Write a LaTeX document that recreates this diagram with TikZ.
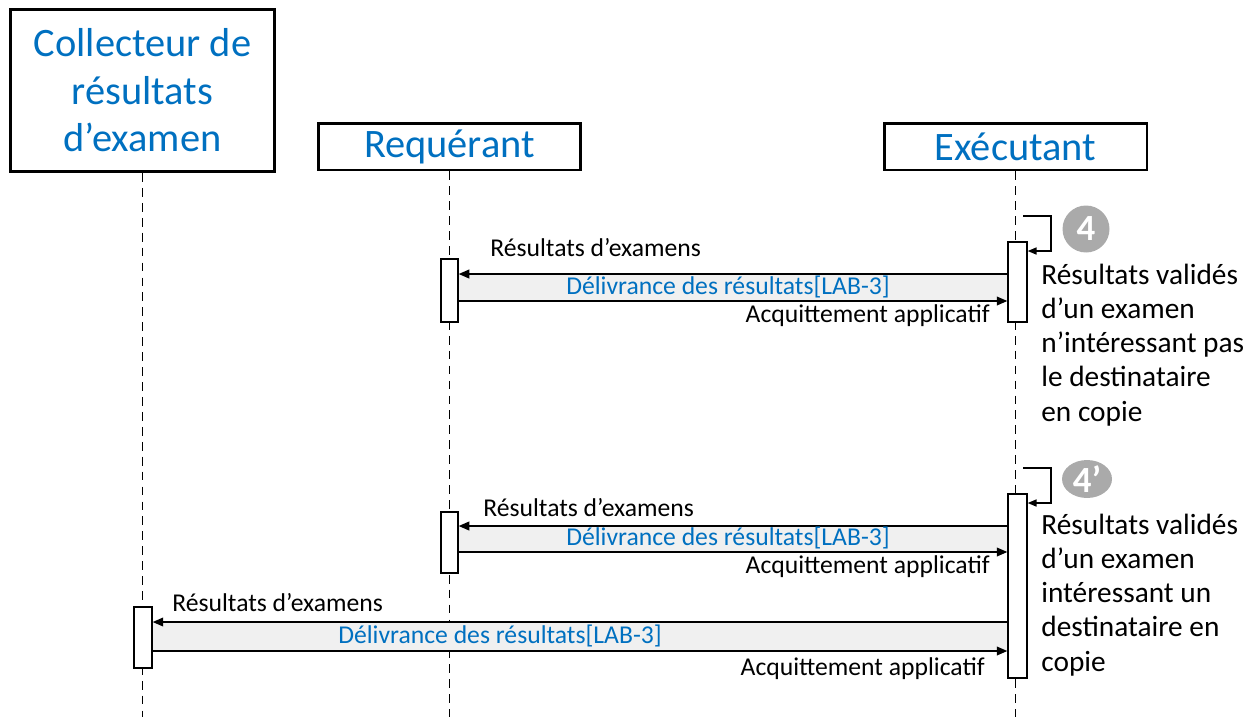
\documentclass[tikz,border=0pt]{standalone}
\usepackage{fontspec}
\setmainfont{Carlito}
\usetikzlibrary{arrows.meta,shapes.geometric}
\definecolor{hlblue}{RGB}{0,112,192}
\definecolor{bandgray}{RGB}{240,240,240}
\definecolor{stepgray}{RGB}{170,170,170}

\begin{document}
\begin{tikzpicture}[x=0.02cm,y=-0.02cm,
    actor/.style={draw, line width=1.7pt, text=hlblue, font=\fontsize{23}{27}\selectfont, align=center, inner sep=0pt},
    lifeline/.style={line width=0.7pt, dash pattern=on 5pt off 3.5pt},
    bar/.style={draw, fill=white, line width=0.8pt, inner sep=0pt},
    msg/.style={line width=0.8pt, -{Triangle[length=6pt,width=5pt]}},
    selfmsg/.style={line width=0.8pt, -{Triangle[length=5pt,width=4pt]}},
    band/.style={fill=bandgray},
    msglabel/.style={font=\fontsize{14.6}{17}\selectfont, inner sep=0pt},
    desc/.style={font=\fontsize{16.7}{19.4}\selectfont, align=left, inner sep=0pt, anchor=north west},
    stepmark/.style={fill=stepgray, text=white, font=\fontsize{21}{21}\selectfont\bfseries, inner sep=0pt}]
    \useasboundingbox (0,0) rectangle (1256,717);
    \coordinate (bottom) at (0,717);

    % acteurs
    \node[actor, minimum width=5.3cm, minimum height=3.24cm] (coll) at (142.5,90.5) {Collecteur de\\résultats\\d’examen};
    \node[actor, minimum width=5.26cm, minimum height=0.94cm] (req) at (449.5,146.5) {Requérant};
    \node[actor, minimum width=5.26cm, minimum height=0.94cm] (exe) at (1015.5,146.5) {Exécutant};

    \draw[lifeline] (coll.south) -- (coll.south |- bottom);
    \draw[lifeline] (req.south) -- (req.south |- bottom);
    \draw[lifeline] (exe.south) -- (exe.south |- bottom);

    % barres d'activation
    \node[bar, minimum width=0.34cm, minimum height=1.26cm] (rA) at (449.5,290.5) {};
    \node[bar, minimum width=0.38cm, minimum height=1.6cm] (eA) at (1017.5,282) {};
    \node[bar, minimum width=0.34cm, minimum height=1.22cm] (rB) at (449.5,542.5) {};
    \node[bar, minimum width=0.38cm, minimum height=3.68cm] (eB) at (1017.5,586) {};
    \node[bar, minimum width=0.36cm, minimum height=1.22cm] (cA) at (143,637.5) {};

    % niveaux des messages
    \coordinate (m1) at (0,274);
    \coordinate (m2) at (0,301);
    \coordinate (m3) at (0,526);
    \coordinate (m4) at (0,552);
    \coordinate (m5) at (0,622);
    \coordinate (m6) at (0,651);

    \fill[band] (rA.east |- m1) rectangle (eA.west |- m2);
    \fill[band] (rB.east |- m3) rectangle (eB.west |- m4);
    \fill[band] (cA.east |- m5) rectangle (eB.west |- m6);

    \draw[msg] (eA.west |- m1) -- (rA.east |- m1);
    \draw[msg] (rA.east |- m2) -- (eA.west |- m2);
    \draw[msg] (eB.west |- m3) -- (rB.east |- m3);
    \draw[msg] (rB.east |- m4) -- (eB.west |- m4);
    \draw[msg] (eB.west |- m5) -- (cA.east |- m5);
    \draw[msg] (cA.east |- m6) -- (eB.west |- m6);

    % redraw bars over the messages
    \node[bar, minimum width=0.34cm, minimum height=1.26cm] at (rA) {};
    \node[bar, minimum width=0.34cm, minimum height=1.22cm] at (rB) {};
    \node[bar, minimum width=0.36cm, minimum height=1.22cm] at (cA) {};

    \node[msglabel, anchor=west] (lA1) at (490,248) {Résultats d’examens};
    \node[msglabel, text=hlblue] (lA2) at (728,287) {Délivrance des résultats[LAB-3]};
    \node[msglabel, anchor=east] (lA3) at (990,316) {Acquittement applicatif};
    \node[msglabel, anchor=west] (lB1) at (483,508) {Résultats d’examens};
    \node[msglabel, text=hlblue] (lB2) at (728,538) {Délivrance des résultats[LAB-3]};
    \node[msglabel, anchor=east] (lB3) at (990,567) {Acquittement applicatif};
    \node[msglabel, anchor=west] (lC1) at (172,603) {Résultats d’examens};
    \node[msglabel, text=hlblue] (lC2) at (500,636) {Délivrance des résultats[LAB-3]};
    \node[msglabel, anchor=east] (lC3) at (985,669) {Acquittement applicatif};

    % auto-messages
    \coordinate (loopA) at (1023,216);
    \coordinate (loopB) at (1023,468);
    \draw[selfmsg] (loopA) -- ++(28,0) |- (eA.east |- 0,251);
    \draw[selfmsg] (loopB) -- ++(28,0) |- (eB.east |- 0,503);

    \node[stepmark, circle, minimum size=0.94cm] (s4) at (1086,229) {4};
    \node[stepmark, ellipse, minimum width=1.0cm, minimum height=0.64cm] (s4b) at (1087,479) {4’};

    \node[desc] (dA) at (1041,264) {Résultats validés\\d’un examen\\n’intéressant pas\\le destinataire\\en copie};
    \node[desc] (dB) at (1041,514) {Résultats validés\\d’un examen\\intéressant un\\destinataire en\\copie};
\end{tikzpicture}
\end{document}
